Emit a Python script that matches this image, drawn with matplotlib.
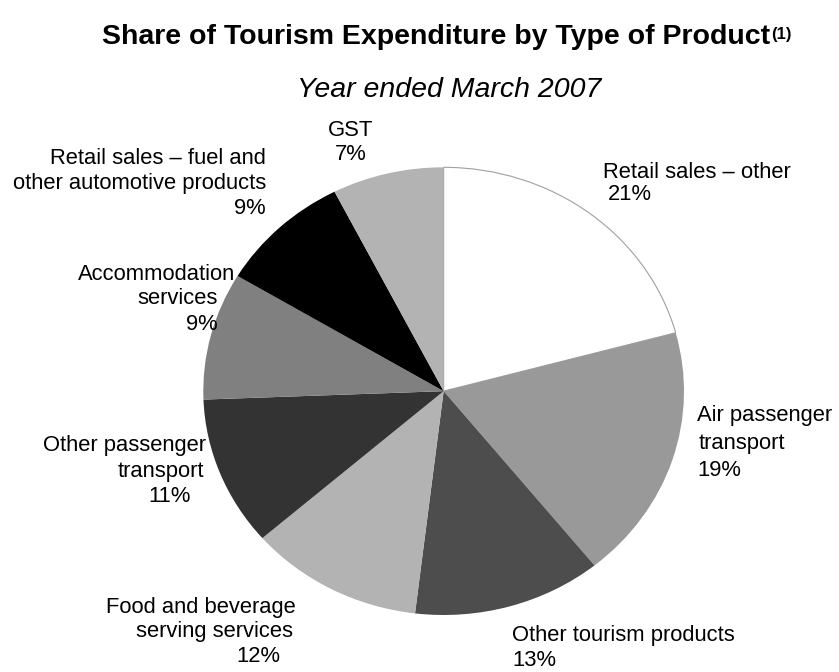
import matplotlib
matplotlib.use("Agg")
import matplotlib.pyplot as plt

plt.rcParams['font.family'] = ['Liberation Sans', 'DejaVu Sans']

categories = ["Retail sales – other", "Air passenger transport", "Other tourism products",
              "Food and beverage serving services", "Other passenger transport",
              "Accommodation services", "Retail sales – fuel and other automotive products", "GST"]
shares = [20.8, 18.4, 12.7, 11.7, 10.8, 9.2, 8.9, 7.5]
pct_labels = ["21%", "19%", "13%", "12%", "11%", "9%", "9%", "7%"]
colors = ["#ffffff", "#999999", "#4d4d4d", "#b3b3b3", "#333333", "#808080", "#000000", "#b3b3b3"]

W, H = 839, 672
fig = plt.figure(figsize=(W / 100, H / 100), dpi=100)

# pie axes (slightly elliptical like the reference)
left, right, top, bottom = 203.3, 684.0, 167.3, 615.0
ax = fig.add_axes([left / W, 1 - bottom / H, (right - left) / W, (bottom - top) / H])
wedges, _ = ax.pie(shares, colors=colors, startangle=90, counterclock=False,
                   wedgeprops=dict(linewidth=0))
wedges[0].set_edgecolor("#a0a0a0")
wedges[0].set_linewidth(0.8)
ax.set_xlim(-1.0, 1.0)
ax.set_ylim(-1.0, 1.0)
ax.set_aspect('auto')
ax.axis('off')

FS = 15.8
# label lines: (text, x_px, y_px, ha)
label_lines = [
    ("Retail sales – other", 603, 172, 'left'),
    (pct_labels[0], 608, 194, 'left'),
    ("Air passenger", 697, 416, 'left'),
    ("transport", 699, 443, 'left'),
    (pct_labels[1], 697, 470, 'left'),
    ("Other tourism products", 512, 636, 'left'),
    (pct_labels[2], 512, 661, 'left'),
    ("Food and beverage", 296, 607, 'right'),
    ("serving services", 293, 632, 'right'),
    (pct_labels[3], 280, 657, 'right'),
    ("Other passenger", 206, 446, 'right'),
    ("transport", 204, 471, 'right'),
    (pct_labels[4], 191, 497, 'right'),
    ("Accommodation", 235, 274, 'right'),
    ("services", 218, 299, 'right'),
    (pct_labels[5], 218, 324, 'right'),
    ("Retail sales – fuel and", 266, 158, 'right'),
    ("other automotive products", 266, 183, 'right'),
    (pct_labels[6], 266, 208, 'right'),
    ("GST", 351, 130, 'center'),
    (pct_labels[7], 351, 154, 'center'),
]
for txt, x, y, ha in label_lines:
    fig.text(x / W, 1 - y / H, txt, ha=ha, va='center', fontsize=FS, color='#000000')

# title
title = fig.text(102 / W, 1 - 37 / H, "Share of Tourism Expenditure by Type of Product",
                 ha='left', va='center', fontsize=20.5, fontweight='bold')
fig.canvas.draw()
bb = title.get_window_extent()
fig.text(bb.x1 / W + 0.001, bb.y1 / H - 0.004, "(1)", ha='left', va='top',
         fontsize=12, fontweight='bold')
fig.text(449 / W, 1 - 90 / H, "Year ended March 2007", ha='center', va='center',
         fontsize=20.5, fontstyle='italic')

fig.savefig("out.png", dpi=100)
